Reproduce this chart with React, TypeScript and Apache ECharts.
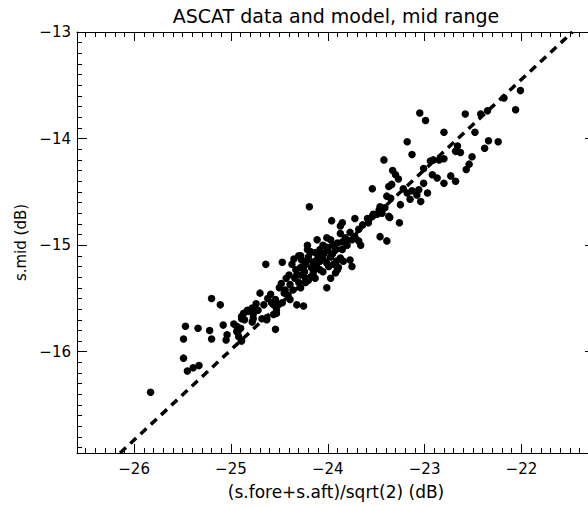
import React, { useEffect, useRef } from "react";
import * as echarts from "echarts";

// ---- axis ranges and ticks ----
const xRange: [number, number] = [-26.59, -21.24];
const yRange: [number, number] = [-16.95, -13.0];
const xMajorTicks = [-26, -25, -24, -23, -22];
const yMajorTicks = [-16, -15, -14, -13];
const minorStep = 0.1;

// ---- model line endpoints (dashed) ----
const modelX = [-26.145, -21.473];
const modelY = [-16.95, -13.0];

// ---- observed points [ (s.fore+s.aft)/sqrt(2), s.mid ] in dB ----
const lowBranch: [number, number][] = [
  [-25.83, -16.38], [-25.49, -16.06], [-25.45, -16.18], [-25.39, -16.15], [-25.33, -16.13],
  [-25.49, -15.88], [-25.47, -15.76], [-25.34, -15.78], [-25.22, -15.8], [-25.2, -15.88],
  [-25.2, -15.5], [-25.11, -15.56], [-25.08, -15.75], [-25.04, -15.84], [-25.05, -15.89],
  [-24.97, -15.74], [-24.93, -15.82], [-24.89, -15.67], [-24.89, -15.9], [-24.78, -15.72],
  [-24.77, -15.62], [-24.63, -15.68], [-24.54, -15.79], [-24.53, -15.64], [-24.66, -15.56],
  [-24.56, -15.56], [-24.47, -15.54], [-24.87, -15.64], [-24.83, -15.61], [-24.94, -15.81],
  [-24.9, -15.78], [-24.92, -15.86], [-24.89, -15.69], [-24.94, -15.76], [-24.78, -15.59],
  [-24.82, -15.62], [-24.77, -15.65], [-24.72, -15.61], [-24.68, -15.69], [-24.63, -15.7],
  [-24.77, -15.69], [-24.7, -15.45], [-24.59, -15.46], [-24.54, -15.51], [-24.58, -15.54],
  [-24.51, -15.56], [-24.53, -15.61], [-24.56, -15.65], [-24.32, -15.56], [-24.25, -15.57],
  [-24.45, -15.45], [-24.5, -15.4], [-24.62, -15.5], [-24.74, -15.55], [-24.86, -15.7],
];

const midBranch: [number, number][] = [
  [-24.48, -15.36], [-24.44, -15.42], [-24.41, -15.47], [-24.39, -15.37], [-24.43, -15.31],
  [-24.39, -15.51], [-24.34, -15.31], [-24.28, -15.28], [-24.33, -15.23], [-24.37, -15.18],
  [-24.23, -15.35], [-24.18, -15.3], [-24.28, -15.4], [-24.64, -15.18], [-24.47, -15.16],
  [-24.35, -15.13], [-24.27, -15.14], [-24.21, -15.0], [-24.18, -15.06], [-24.2, -15.11],
  [-24.23, -15.18], [-24.17, -15.21], [-24.24, -15.25], [-24.13, -15.15], [-24.11, -14.95],
  [-24.01, -14.93], [-23.97, -14.95], [-23.95, -15.0], [-24.01, -15.02], [-23.87, -14.89],
  [-23.77, -14.88], [-23.72, -14.92], [-23.68, -14.96], [-23.66, -15.0], [-23.75, -14.95],
  [-23.8, -15.0], [-23.77, -15.14], [-23.75, -15.2], [-23.9, -15.23], [-23.97, -15.31],
  [-24.01, -15.4], [-23.89, -15.21], [-24.01, -15.17], [-23.94, -15.18],
  [-24.21, -15.04], [-24.18, -15.07], [-24.28, -15.1], [-24.13, -15.07], [-24.08, -15.04],
  [-24.05, -15.12], [-23.97, -15.11], [-23.91, -15.15], [-23.87, -15.12], [-23.84, -15.15],
  [-23.92, -15.26], [-23.99, -15.2], [-24.08, -15.23], [-24.15, -15.26], [-24.28, -15.21],
  [-24.32, -15.28], [-24.23, -15.31], [-24.13, -15.31], [-24.05, -15.25], [-23.92, -15.04],
  [-23.85, -15.04], [-23.82, -14.93], [-24.08, -15.15], [-24.15, -15.16],
  [-24.25, -15.2], [-24.1, -15.1], [-24.0, -15.05], [-23.95, -15.08], [-24.05, -15.0],
  [-24.2, -15.33], [-24.3, -15.35], [-24.36, -15.42], [-24.4, -15.28], [-23.9, -14.98],
  [-23.85, -14.97], [-24.12, -15.2], [-24.22, -15.15], [-24.3, -15.1], [-24.04, -15.08],
];

const upperMid: [number, number][] = [
  [-24.19, -14.64], [-23.96, -14.77], [-23.85, -14.79], [-23.87, -14.82], [-23.72, -14.75],
  [-23.59, -14.75], [-23.58, -14.79], [-23.54, -14.73], [-23.49, -14.71], [-23.44, -14.7],
  [-23.47, -14.67], [-23.46, -14.64], [-23.36, -14.74], [-23.26, -14.79], [-23.46, -14.92],
  [-23.39, -14.96], [-23.64, -14.81], [-23.68, -14.85], [-23.53, -14.71],
];

const highBranch: [number, number][] = [
  [-23.42, -14.2], [-23.33, -14.3], [-23.37, -14.45], [-23.34, -14.43], [-23.39, -14.54],
  [-23.35, -14.56], [-23.54, -14.47], [-23.41, -14.65], [-23.37, -14.73], [-23.22, -14.47],
  [-23.18, -14.51], [-23.13, -14.49], [-23.08, -14.53], [-23.06, -14.48], [-22.97, -14.51],
  [-23.15, -14.57], [-23.04, -14.59], [-23.01, -14.42], [-23.01, -14.28], [-23.18, -14.03],
  [-23.13, -14.15], [-23.05, -13.76], [-22.99, -13.83], [-22.8, -13.94], [-22.91, -14.2],
  [-22.85, -14.2], [-22.8, -14.19], [-22.94, -14.21], [-22.92, -14.34], [-22.87, -14.37],
  [-22.8, -14.42], [-22.73, -14.35], [-22.68, -14.4], [-22.66, -14.07], [-22.63, -14.13],
  [-22.68, -14.12], [-22.51, -14.17], [-22.54, -14.24], [-22.57, -14.29], [-22.48, -13.94],
  [-22.58, -13.77], [-22.42, -13.77], [-22.35, -13.74], [-22.34, -14.02], [-22.24, -14.03],
  [-22.38, -14.09], [-22.18, -13.62], [-22.06, -13.73], [-22.01, -13.55], [-23.27, -14.38],
  [-23.3, -14.34], [-23.25, -14.62],
];

const titleText = "ASCAT data and model, mid range";
const xName = "(s.fore+s.aft)/sqrt(2) (dB)";
const yName = "s.mid (dB)";

const FONT = "DejaVu Sans";

function minorValues(range: [number, number], step: number): number[] {
  const out: number[] = [];
  const start = Math.ceil(range[0] / step - 1e-9);
  const end = Math.floor(range[1] / step + 1e-9);
  for (let k = start; k <= end; k++) out.push(Math.round(k * step * 1000) / 1000);
  return out;
}

const fmt = (v: number) => (v < 0 ? "\u2212" + String(Math.abs(v)) : String(v));

export default function App() {
  const ref = useRef<HTMLDivElement>(null);
  useEffect(() => {
    if (!ref.current) return;
    const chart = echarts.init(ref.current, undefined, { renderer: "svg" });
    const line = { color: "#000", width: 1 };
    const xMinor = minorValues(xRange, minorStep);
    const yMinor = minorValues(yRange, minorStep);

    const axisBase = (min: number, max: number) => ({
      type: "value" as const,
      min,
      max,
      splitLine: { show: false },
      gridIndex: 0,
    });

    const xAxes = [
      {
        ...axisBase(xRange[0], xRange[1]),
        position: "bottom",
        axisLine: { show: true, onZero: false, lineStyle: line },
        axisTick: { show: true, inside: true, length: 9, customValues: xMajorTicks, lineStyle: line },
        axisLabel: {
          show: true,
          customValues: xMajorTicks,
          formatter: fmt,
          margin: 8,
          fontFamily: FONT,
          fontSize: 15,
          color: "#000",
        },
        name: xName,
        nameLocation: "middle",
        nameGap: 30,
        nameTextStyle: { fontFamily: FONT, fontSize: 17, color: "#000" },
      },
      {
        ...axisBase(xRange[0], xRange[1]),
        position: "bottom",
        axisLine: { show: false, onZero: false },
        axisTick: { show: true, inside: true, length: 5, customValues: xMinor, lineStyle: line },
        axisLabel: { show: false },
      },
      {
        ...axisBase(xRange[0], xRange[1]),
        position: "top",
        axisLine: { show: true, onZero: false, lineStyle: line },
        axisTick: { show: true, inside: true, length: 9, customValues: xMajorTicks, lineStyle: line },
        axisLabel: { show: false },
      },
      {
        ...axisBase(xRange[0], xRange[1]),
        position: "top",
        axisLine: { show: false, onZero: false },
        axisTick: { show: true, inside: true, length: 5, customValues: xMinor, lineStyle: line },
        axisLabel: { show: false },
      },
    ];

    const yAxes = [
      {
        ...axisBase(yRange[0], yRange[1]),
        position: "left",
        axisLine: { show: true, onZero: false, lineStyle: line },
        axisTick: { show: true, inside: true, length: 10, customValues: yMajorTicks, lineStyle: line },
        axisLabel: {
          show: true,
          customValues: yMajorTicks,
          formatter: fmt,
          margin: 6,
          fontFamily: FONT,
          fontSize: 15,
          color: "#000",
        },
        name: yName,
        nameLocation: "middle",
        nameGap: 40,
        nameTextStyle: { fontFamily: FONT, fontSize: 15, color: "#000" },
      },
      {
        ...axisBase(yRange[0], yRange[1]),
        position: "left",
        axisLine: { show: false, onZero: false },
        axisTick: { show: true, inside: true, length: 5, customValues: yMinor, lineStyle: line },
        axisLabel: { show: false },
      },
      {
        ...axisBase(yRange[0], yRange[1]),
        position: "right",
        axisLine: { show: true, onZero: false, lineStyle: line },
        axisTick: { show: true, inside: true, length: 10, customValues: yMajorTicks, lineStyle: line },
        axisLabel: { show: false },
      },
      {
        ...axisBase(yRange[0], yRange[1]),
        position: "right",
        axisLine: { show: false, onZero: false },
        axisTick: { show: true, inside: true, length: 5, customValues: yMinor, lineStyle: line },
        axisLabel: { show: false },
      },
    ];

    const points = [...lowBranch, ...midBranch, ...upperMid, ...highBranch];
    const modelData = modelX.map((x, i) => [x, modelY[i]]);

    chart.setOption({
      animation: false,
      backgroundColor: "#fff",
      grid: { left: 77, top: 32, width: 518, height: 421, containLabel: false, outerBoundsMode: "none" },
      graphic: [
        {
          type: "text",
          x: 336,
          y: 16,
          style: {
            text: titleText,
            fontFamily: FONT,
            fontSize: 19,
            fill: "#000",
            textAlign: "center",
            textVerticalAlign: "middle",
          },
        },
      ],
      xAxis: xAxes,
      yAxis: yAxes,
      series: [
        {
          type: "line",
          xAxisIndex: 0,
          yAxisIndex: 0,
          data: modelData,
          symbol: "none",
          clip: true,
          lineStyle: { color: "#000", width: 3.5, type: [8, 6], cap: "butt" },
          z: 3,
        },
        {
          type: "scatter",
          xAxisIndex: 0,
          yAxisIndex: 0,
          data: points,
          symbol: "circle",
          symbolSize: 7.5,
          itemStyle: { color: "#000", opacity: 1 },
          z: 4,
        },
      ],
    });
    return () => chart.dispose();
  }, []);

  return (
    <div
      ref={ref}
      style={{ position: "fixed", left: 0, top: 0, width: 588, height: 506, background: "#fff" }}
    />
  );
}
